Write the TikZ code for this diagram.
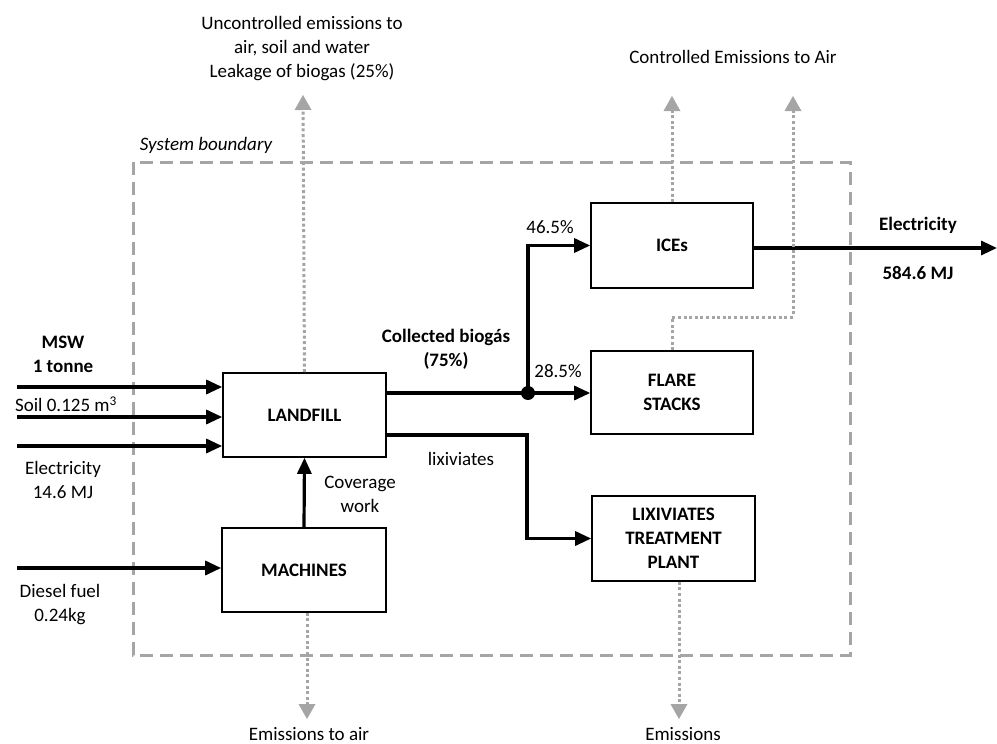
\documentclass[tikz,border=0pt]{standalone}
\usepackage{fontspec}
\setmainfont{Carlito}
\usetikzlibrary{arrows.meta}
\definecolor{emisgray}{RGB}{165,165,165}
\newcommand{\basefont}{\fontsize{19}{24}\selectfont}
\tikzset{
  procbox/.style={draw=black, line width=1.6pt, minimum width=162pt, minimum height=84pt,
                  inner sep=0pt, align=center, font=\basefont\bfseries},
  flow/.style={line width=3.2pt, -{Triangle[length=16pt,width=14pt]}},
  flowline/.style={line width=3.2pt},
  emis/.style={draw=emisgray, line width=3pt, dash pattern=on 3pt off 2.6pt,
               -{Triangle[length=15pt,width=17pt,fill=emisgray,line width=0pt]}},
  boundary/.style={draw=emisgray, line width=3pt, dash pattern=on 13pt off 7pt},
  lbl/.style={align=center, inner sep=0pt, font=\basefont},
  blbl/.style={align=center, inner sep=0pt, font=\basefont\bfseries}
}
\begin{document}
\begin{tikzpicture}[x=1pt,y=-1pt, font=\basefont]
\useasboundingbox (0,0) rectangle (997,744);

% system boundary
\draw[boundary] (133,162) rectangle (850,655);
\node[lbl, font=\basefont\itshape] (sysb) at (206,145) {System boundary};

% process boxes
\node[procbox, minimum width=163pt] (landfill) at (304.5,415) {LANDFILL};
\node[procbox, minimum width=164pt] (machines) at (304,570) {MACHINES};
\node[procbox, minimum height=85pt] (ices) at (672,245.5) {ICEs};
\node[procbox, minimum height=83pt] (flare) at (672,392.5) {FLARE\\STACKS};
\node[procbox, minimum width=163pt, minimum height=85pt] (lix) at (673.5,538.5) {LIXIVIATES\\TREATMENT\\PLANT};

% inputs
\coordinate (inMSW) at (17,387);
\coordinate (inSoil) at (17,417);
\coordinate (inElec) at (17,446);
\coordinate (inDiesel) at (17,568);
\draw[flow] (inMSW) -- (inMSW -| landfill.west);
\draw[flow] (inSoil) -- (inSoil -| landfill.west);
\draw[flow] (inElec) -- (inElec -| landfill.west);
\draw[flow] (inDiesel) -- (inDiesel -| machines.west);
\node[blbl] (msw) at (63,354.5) {MSW\\1 tonne};
\node[lbl] (soil) at (66,404) {Soil 0.125 m\textsuperscript{3}};
\node[lbl] (elecin) at (63,480) {Electricity\\14.6 MJ};
\node[lbl] (diesel) at (60,605) {Diesel fuel\\0.24kg};

% machines to landfill
\draw[flow] (machines.north) -- (landfill.south);
\node[lbl] (cover) at (360,494.5) {Coverage\\work};

% collected biogas split
\coordinate (junc) at (528,393);
\draw[flowline] (junc -| landfill.east) -- (junc);
\draw[flow] (junc) -- (junc -| flare.west);
\draw[flow] (junc) |- (ices.west);
\fill (junc) circle (7pt);
\node[blbl] (collected) at (446,349.5) {Collected biog\'as\\(75\%)};
\node[lbl] (p465) at (550,227) {46.5\%};
\node[lbl] (p285) at (558,371) {28.5\%};

% lixiviates
\coordinate (lxc) at (527,435);
\draw[flow] (lxc -| landfill.east) -- (lxc) |- (lix.west);
\node[lbl] (lixlbl) at (461,459) {lixiviates};

% electricity output
\coordinate (elecOut) at (997,248);
\draw[flow] (ices.east |- elecOut) -- (elecOut);
\node[blbl] (elecl) at (918,225) {Electricity};
\node[blbl] (elecv) at (918,273) {584.6 MJ};

% emissions
\coordinate (leakTip) at (303,95);
\draw[emis] (landfill.north) -- (leakTip);
\node[lbl] (uncontrolled) at (302,49) {Uncontrolled emissions to\\air, soil and water\\Leakage of biogas (25\%)};

\coordinate (iceTip) at (672,96);
\draw[emis] (ices.north) -- (iceTip);
\coordinate (flBend) at (793,317);
\coordinate (flTip) at (793,96);
\draw[emis] (flare.north) |- (flBend) -- (flTip);
\node[lbl] (controlled) at (733,57) {Controlled Emissions to Air};

\coordinate (machTip) at (307,719);
\draw[emis] (machines.south -| machTip) -- (machTip);
\node[lbl, anchor=south] (emair) at (309,740.5) {Emissions to air};

\coordinate (lixTip) at (679,719);
\draw[emis] (lix.south -| lixTip) -- (lixTip);
\node[lbl, anchor=south] (emlix) at (683,740.5) {Emissions};
\end{tikzpicture}
\end{document}
